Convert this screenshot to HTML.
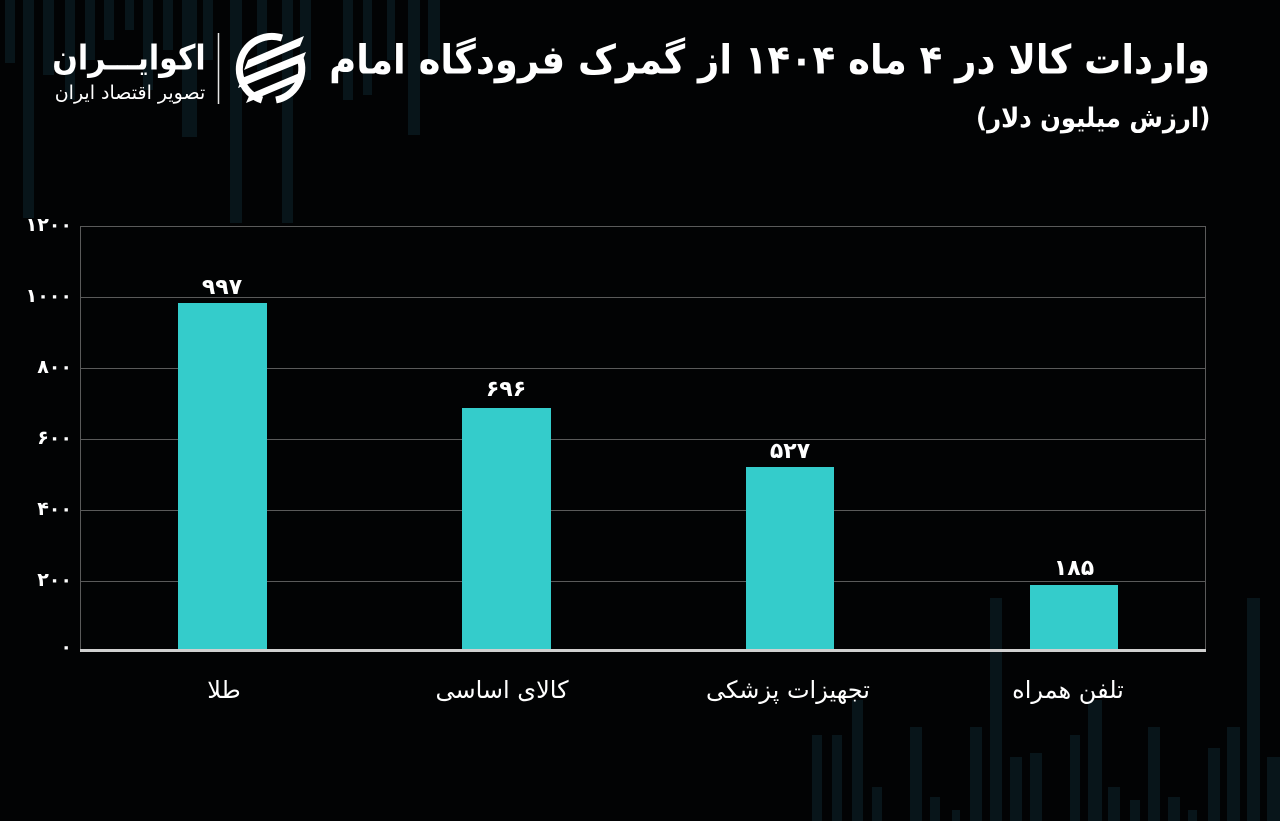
<!DOCTYPE html>
<html><head><meta charset="utf-8">
<style>
html,body{margin:0;padding:0;background:#020304;}
body{width:1280px;height:821px;position:relative;overflow:hidden;font-family:"DejaVu Sans","Liberation Sans",sans-serif;color:#fff;}
.t{position:absolute;white-space:nowrap;direction:rtl;line-height:1;}
.c{position:absolute;white-space:nowrap;direction:rtl;line-height:1;text-align:center;}
</style></head>
<body>
<svg width="1280" height="821" style="position:absolute;left:0;top:0">
  <g fill="#08151a">
    <!-- top-left decoration -->
    <rect x="5" y="0" width="10" height="63"/>
    <rect x="23" y="0" width="11" height="218"/>
    <rect x="43" y="0" width="11" height="75"/>
    <rect x="65" y="0" width="10" height="100"/>
    <rect x="85" y="0" width="10" height="60"/>
    <rect x="104" y="0" width="10" height="40"/>
    <rect x="125" y="0" width="9" height="30"/>
    <rect x="143" y="0" width="10" height="90"/>
    <rect x="163" y="0" width="10" height="50"/>
    <rect x="182" y="0" width="15" height="137"/>
    <rect x="203" y="0" width="10" height="60"/>
    <rect x="230" y="0" width="12" height="223"/>
    <rect x="257" y="0" width="10" height="70"/>
    <rect x="282" y="0" width="11" height="223"/>
    <rect x="300" y="0" width="11" height="80"/>
    <rect x="343" y="0" width="10" height="100"/>
    <rect x="363" y="0" width="9" height="95"/>
    <rect x="387" y="0" width="8" height="60"/>
    <rect x="408" y="0" width="12" height="135"/>
    <rect x="428" y="0" width="12" height="60"/>
    <!-- bottom-right decoration -->
    <rect x="812" y="735" width="10" height="86"/>
    <rect x="832" y="735" width="10" height="86"/>
    <rect x="852" y="700" width="11" height="121"/>
    <rect x="872" y="787" width="10" height="34"/>
    <rect x="910" y="727" width="12" height="94"/>
    <rect x="930" y="797" width="10" height="24"/>
    <rect x="952" y="810" width="8" height="11"/>
    <rect x="970" y="727" width="12" height="94"/>
    <rect x="990" y="598" width="12" height="223"/>
    <rect x="1010" y="757" width="12" height="64"/>
    <rect x="1030" y="753" width="12" height="68"/>
    <rect x="1070" y="735" width="10" height="86"/>
    <rect x="1088" y="700" width="14" height="121"/>
    <rect x="1108" y="787" width="12" height="34"/>
    <rect x="1130" y="800" width="10" height="21"/>
    <rect x="1148" y="727" width="12" height="94"/>
    <rect x="1168" y="797" width="12" height="24"/>
    <rect x="1188" y="810" width="9" height="11"/>
    <rect x="1208" y="748" width="12" height="73"/>
    <rect x="1227" y="727" width="13" height="94"/>
    <rect x="1247" y="598" width="13" height="223"/>
    <rect x="1267" y="757" width="13" height="64"/>
  </g>

  <!-- grid -->
  <g stroke="#5a5a5a" stroke-width="1">
    <line x1="80" y1="226.5" x2="1206" y2="226.5"/>
    <line x1="80" y1="297.5" x2="1206" y2="297.5"/>
    <line x1="80" y1="368.5" x2="1206" y2="368.5"/>
    <line x1="80" y1="439.5" x2="1206" y2="439.5"/>
    <line x1="80" y1="510.5" x2="1206" y2="510.5"/>
    <line x1="80" y1="581.5" x2="1206" y2="581.5"/>
    <line x1="80.5" y1="226" x2="80.5" y2="651"/>
    <line x1="1205.5" y1="226" x2="1205.5" y2="651"/>
  </g>

  <!-- bars -->
  <g fill="#34cccb">
    <rect x="178" y="303" width="89" height="347"/>
    <rect x="462" y="408" width="89" height="242"/>
    <rect x="746" y="467" width="88" height="183"/>
    <rect x="1030" y="585" width="88" height="65"/>
  </g>
  <rect x="80" y="649" width="1126" height="3" fill="#d0d0d0"/>

  <!-- logo -->
  <line x1="218.5" y1="33" x2="218.5" y2="104" stroke="#e6e6e6" stroke-width="1.5"/>
  <g>
    <path d="M 282 38 A 32 32 0 1 0 262 100" fill="none" stroke="#fff" stroke-width="7"/>
    <path d="M 300 58 A 32 32 0 0 1 276 100" fill="none" stroke="#fff" stroke-width="7"/>
    <g fill="#fff">
      <polygon points="248,60 304,36 300,46 244,70"/>
      <polygon points="242,78 306,52 302,62 238,88"/>
      <polygon points="250,94 302,72 298,81 246,103"/>
    </g>
  </g>
</svg>

<!-- logo text -->
<div class="t" style="left:50px;top:42px;width:158px;font-size:30px;font-weight:bold;text-align:center;transform:scaleY(1.15);transform-origin:50% 0;">اکوایـــران</div>
<div class="t" style="left:48px;top:84px;width:164px;font-size:19px;text-align:center;">تصویر اقتصاد ایران</div>

<!-- title -->
<div class="t" style="right:70px;top:40px;font-size:37px;font-weight:bold;transform:scaleY(1.08);transform-origin:100% 0;">واردات کالا در ۴ ماه ۱۴۰۴ از گمرک فرودگاه امام</div>
<div class="t" style="right:70px;top:105px;font-size:27px;font-weight:bold;transform:scaleX(0.9);transform-origin:100% 0;">(ارزش میلیون دلار)</div>

<!-- y ticks -->
<div class="t" style="right:1208px;top:216px;font-size:19px;font-weight:bold;">۱۲۰۰</div>
<div class="t" style="right:1208px;top:287px;font-size:19px;font-weight:bold;">۱۰۰۰</div>
<div class="t" style="right:1208px;top:358px;font-size:19px;font-weight:bold;">۸۰۰</div>
<div class="t" style="right:1208px;top:429px;font-size:19px;font-weight:bold;">۶۰۰</div>
<div class="t" style="right:1208px;top:500px;font-size:19px;font-weight:bold;">۴۰۰</div>
<div class="t" style="right:1208px;top:571px;font-size:19px;font-weight:bold;">۲۰۰</div>
<div class="t" style="right:1208px;top:638px;font-size:19px;font-weight:bold;">۰</div>

<!-- value labels -->
<div class="c" style="left:172px;width:100px;top:277px;font-size:22px;font-weight:bold;">۹۹۷</div>
<div class="c" style="left:456px;width:100px;top:379px;font-size:22px;font-weight:bold;">۶۹۶</div>
<div class="c" style="left:740px;width:100px;top:441px;font-size:22px;font-weight:bold;">۵۲۷</div>
<div class="c" style="left:1024px;width:100px;top:558px;font-size:22px;font-weight:bold;">۱۸۵</div>

<!-- category labels -->
<div class="c" style="left:124px;width:200px;top:678px;font-size:24px;">طلا</div>
<div class="c" style="left:402px;width:200px;top:678px;font-size:24px;">کالای اساسی</div>
<div class="c" style="left:688px;width:200px;top:678px;font-size:24px;">تجهیزات پزشکی</div>
<div class="c" style="left:968px;width:200px;top:678px;font-size:24px;">تلفن همراه</div>
</body></html>
